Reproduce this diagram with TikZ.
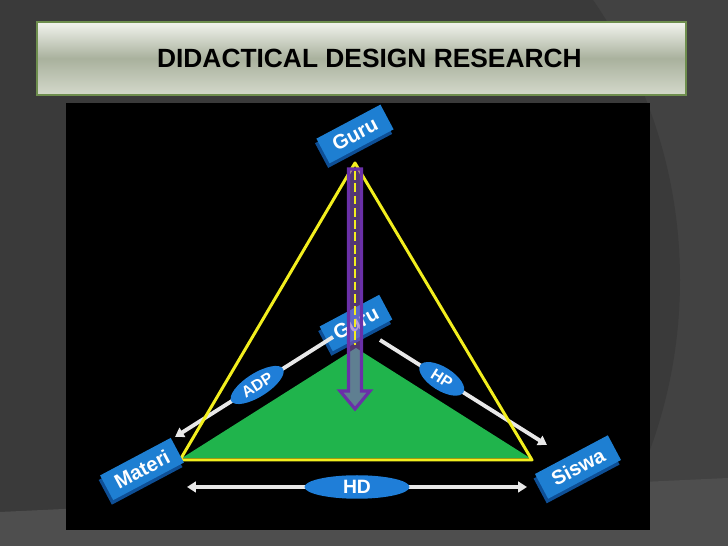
\documentclass[tikz,border=0pt]{standalone}
\usepackage{fontspec}
\setmainfont{Liberation Sans}
\usepackage{xcolor}
\usetikzlibrary{positioning,calc,shapes.geometric,arrows.meta,shadows}

\definecolor{slidebg}{HTML}{3A3A3A}
\definecolor{slidelight}{HTML}{424242}
\definecolor{slideband}{HTML}{4E4E4E}
\definecolor{titletop}{HTML}{F2F4EE}
\definecolor{titlemid}{HTML}{A9B19D}
\definecolor{titlebot}{HTML}{D4D9CB}
\definecolor{titlerim}{HTML}{6E8E4E}
\definecolor{tileblue}{HTML}{1E7FD2}
\definecolor{tileedge}{HTML}{0E4F96}
\definecolor{pillblue}{HTML}{1F7ED8}
\definecolor{edgeyellow}{HTML}{F2EE1E}
\definecolor{basegreen}{HTML}{20B44C}
\definecolor{arrowrim}{HTML}{6A30A8}
\definecolor{arrowcore}{HTML}{8A5CC0}
\definecolor{whiteline}{HTML}{E8E8E8}

\begin{document}
\begin{tikzpicture}[x=0.02cm, y=-0.02cm,
  tile/.style={rectangle, fill=tileblue, text=white, rotate=28, inner sep=0pt,
    minimum height=0.56cm, font=\fontsize{11.5}{13}\selectfont\bfseries,
    drop shadow={shadow xshift=-0.8pt, shadow yshift=-2.6pt, fill=tileedge, opacity=1}},
  pill/.style={ellipse, fill=pillblue, text=white, inner sep=0pt, minimum height=0.47cm},
  whitearrow/.style={draw=whiteline, line width=2.2pt, -{Triangle[width=6pt,length=5pt]}},
  rim/.style={draw=edgeyellow, line width=1.7pt, line join=round}]
\useasboundingbox (0,0) rectangle (728,546);

% slide background
\fill[slidelight] (0,0) rectangle (728,546);
\begin{scope}
  \clip (0,0) rectangle (728,546);
  \fill[slidebg] (186,280) circle (494);
\end{scope}
\fill[slideband] (0,512) -- (728,478) -- (728,546) -- (0,546) -- cycle;

% title bar
\node[rectangle, draw=titlerim, line width=1pt, top color=titletop, bottom color=titlebot,
  middle color=titlemid, minimum width=12.98cm, minimum height=1.46cm,
  font=\fontsize{15}{18}\selectfont\bfseries] (title) at (361.5,58.5) {\hspace*{9pt}DIDACTICAL DESIGN RESEARCH};

% picture panel
\fill[black] (66,103) rectangle (650,530);

\coordinate (apex) at (355,163);
\coordinate (baseL) at (180,460);
\coordinate (baseR) at (532,460);
\coordinate (greenT) at (356,348);

\fill[basegreen] (greenT) -- (182,458) -- (530,458) -- cycle;

\node[tile, minimum width=1.35cm] (guruMid) at (356,323) {Guru};

\coordinate (adpS) at (333,337);
\coordinate (adpE) at (175,437);
\coordinate (hpS) at (380,340);
\coordinate (hpE) at (547,445);
\draw[whitearrow] (adpS) -- (adpE);
\draw[whitearrow] (hpS) -- (hpE);
\node[pill, minimum width=1.22cm, rotate=32.3, font=\fontsize{9}{10}\selectfont\bfseries] (adp) at ($(adpS)!0.48!(adpE)$) {ADP};
\node[pill, minimum width=1.02cm, rotate=-32.2, font=\fontsize{9}{10}\selectfont\bfseries] (hp) at ($(hpS)!0.37!(hpE)$) {HP};

\draw[rim] (apex) -- (baseL) -- (baseR) -- cycle;

% arrow down the middle
\filldraw[draw=arrowrim, fill=arrowcore, fill opacity=0.6, line width=1.8pt, line join=miter]
  ($(apex)+(-6.5,6)$) -- ($(apex)+(-6.5,228)$) -- ($(apex)+(-15,228)$) -- ($(apex)+(0,246)$)
  -- ($(apex)+(15,228)$) -- ($(apex)+(6.5,228)$) -- ($(apex)+(6.5,6)$) -- cycle;
\draw[edgeyellow, line width=1.5pt, dash pattern=on 5pt off 2pt] ($(apex)+(0,8)$) -- ($(apex)+(0,182)$);

\node[tile, minimum width=1.45cm] (guruTop) at (355,134) {Guru};
\node[tile, minimum width=1.6cm] (materi) at (142,469) {Materi};
\node[tile, minimum width=1.65cm] (siswa) at (578,467) {Siswa};

\coordinate (hdL) at (187,487);
\coordinate (hdR) at (527,487);
\draw[whitearrow, {Triangle[width=6pt,length=5pt]}-{Triangle[width=6pt,length=5pt]}] (hdL) -- node[pill, minimum width=2.1cm, font=\fontsize{11}{12}\selectfont\bfseries] (hd) {HD} (hdR);

\end{tikzpicture}
\end{document}
